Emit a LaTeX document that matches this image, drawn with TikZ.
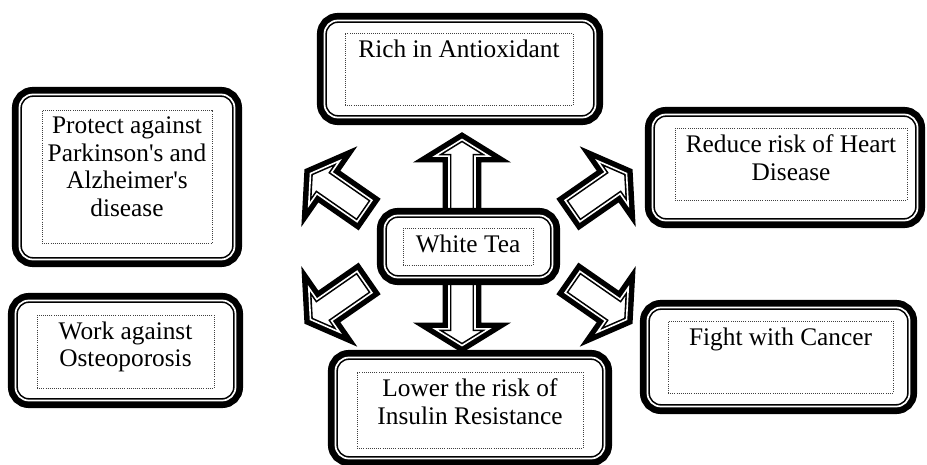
\documentclass[tikz,border=0pt]{standalone}
\usepackage{tikz}
\usepackage{xcolor}
\usepackage{fontspec}
\setmainfont{Liberation Serif}
\usetikzlibrary{calc}

% hollow block arrow: #1 name, #2 tail, #3 tip
\newcommand{\blockarrow}[3]{%
  \coordinate (#1-base) at ($(#3)!12.5pt!(#2)$);
  \draw[hollow] ($(#2)!9.75pt!90:(#3)$) -- ($(#1-base)!9.75pt!90:(#3)$)
    -- ($(#1-base)!20.25pt!90:(#3)$) -- (#3)
    -- ($(#1-base)!20.25pt!-90:(#3)$) -- ($(#1-base)!9.75pt!-90:(#3)$)
    -- ($(#2)!9.75pt!-90:(#3)$) -- cycle;
}

\begin{document}
\begin{tikzpicture}[x=0.75pt, y=-0.75pt,
    benefit/.style={rectangle, rounded corners=10pt, draw, fill=white, line width=1.2pt,
      double=white, double distance=1.3pt, inner sep=0pt, preaction={draw, line width=11.3pt}},
    dotframe/.style={draw=black!75, densely dotted, line width=0.6pt, inner sep=0pt},
    txt/.style={font=\fontsize{19}{20.8}\selectfont, align=center, anchor=north, inner sep=5pt},
    hollow/.style={draw, fill=white, line width=1.2pt, double=white, double distance=1.2pt,
      line join=miter, preaction={draw, line width=9.4pt, line join=miter}}
  ]
  \useasboundingbox (0,0) rectangle (927,464);

  % arrow ends
  \coordinate (up-tail) at (462,212);   \coordinate (up-tip) at (462,139.5);
  \coordinate (dn-tail) at (462,281);   \coordinate (dn-tip) at (462,345.5);
  \coordinate (ul-tail) at (364.5,211); \coordinate (ul-tip) at (310.5,173.5);
  \coordinate (ur-tail) at (572.5,211); \coordinate (ur-tip) at (626.5,173.5);
  \coordinate (ll-tail) at (364.5,282); \coordinate (ll-tip) at (310.5,319.5);
  \coordinate (lr-tail) at (572.5,282); \coordinate (lr-tip) at (626.5,319.5);

  % arrows
  \blockarrow{up}{up-tail}{up-tip}
  \blockarrow{dn}{dn-tail}{dn-tip}
  \blockarrow{ul}{ul-tail}{ul-tip}
  \blockarrow{ur}{ur-tail}{ur-tip}
  \blockarrow{ll}{ll-tail}{ll-tip}
  \blockarrow{lr}{lr-tail}{lr-tip}

  % White Tea
  \node[benefit, minimum width=126pt, minimum height=46.5pt] (tea) at (468.5,246.5) {};
  \node[dotframe, minimum width=97.5pt, minimum height=27.75pt] (tea-f) at (468,246.5) {};
  \node[txt] (tea-t) at (tea-f.north) {White Tea};

  % Rich in Antioxidant
  \node[benefit, minimum width=203.25pt, minimum height=72.75pt] (rich) at (460,69) {};
  \node[dotframe, minimum width=171pt, minimum height=54pt] (rich-f) at (459,69) {};
  \node[txt] (rich-t) at (rich-f.north) {Rich in Antioxidant};

  % Protect against
  \node[benefit, minimum width=161.25pt, minimum height=123.75pt] (prot) at (127,177) {};
  \node[dotframe, minimum width=127.5pt, minimum height=99.75pt] (prot-f) at (127,176.5) {};
  \node[txt] (prot-t) at (prot-f.north) {Protect against\\Parkinson\textquotesingle s and\\Alzheimer\textquotesingle s\\disease};

  % Work against
  \node[benefit, minimum width=165pt, minimum height=75pt] (osteo) at (125.5,350.5) {};
  \node[dotframe, minimum width=132.75pt, minimum height=54.75pt] (osteo-f) at (125.5,351.5) {};
  \node[txt] (osteo-t) at (osteo-f.north) {Work against\\Osteoporosis};

  % Heart Disease
  \node[benefit, minimum width=198.75pt, minimum height=79.5pt] (heart) at (785,167.5) {};
  \node[dotframe, minimum width=174pt, minimum height=54pt] (heart-f) at (791,164) {};
  \node[txt] (heart-t) at (heart-f.north) {Reduce risk of Heart\\Disease};

  % Cancer
  \node[benefit, minimum width=196.5pt, minimum height=74.25pt] (cancer) at (778.5,357) {};
  \node[dotframe, minimum width=168.75pt, minimum height=54pt] (cancer-f) at (780.5,357) {};
  \node[txt] (cancer-t) at (cancer-f.north) {Fight with Cancer};

  % Insulin Resistance
  \node[benefit, minimum width=201.75pt, minimum height=75.75pt] (lower) at (470,408) {};
  \node[dotframe, minimum width=169.5pt, minimum height=57pt] (lower-f) at (470,410) {};
  \node[txt] (lower-t) at (lower-f.north) {Lower the risk of\\Insulin Resistance};
\end{tikzpicture}
\end{document}
